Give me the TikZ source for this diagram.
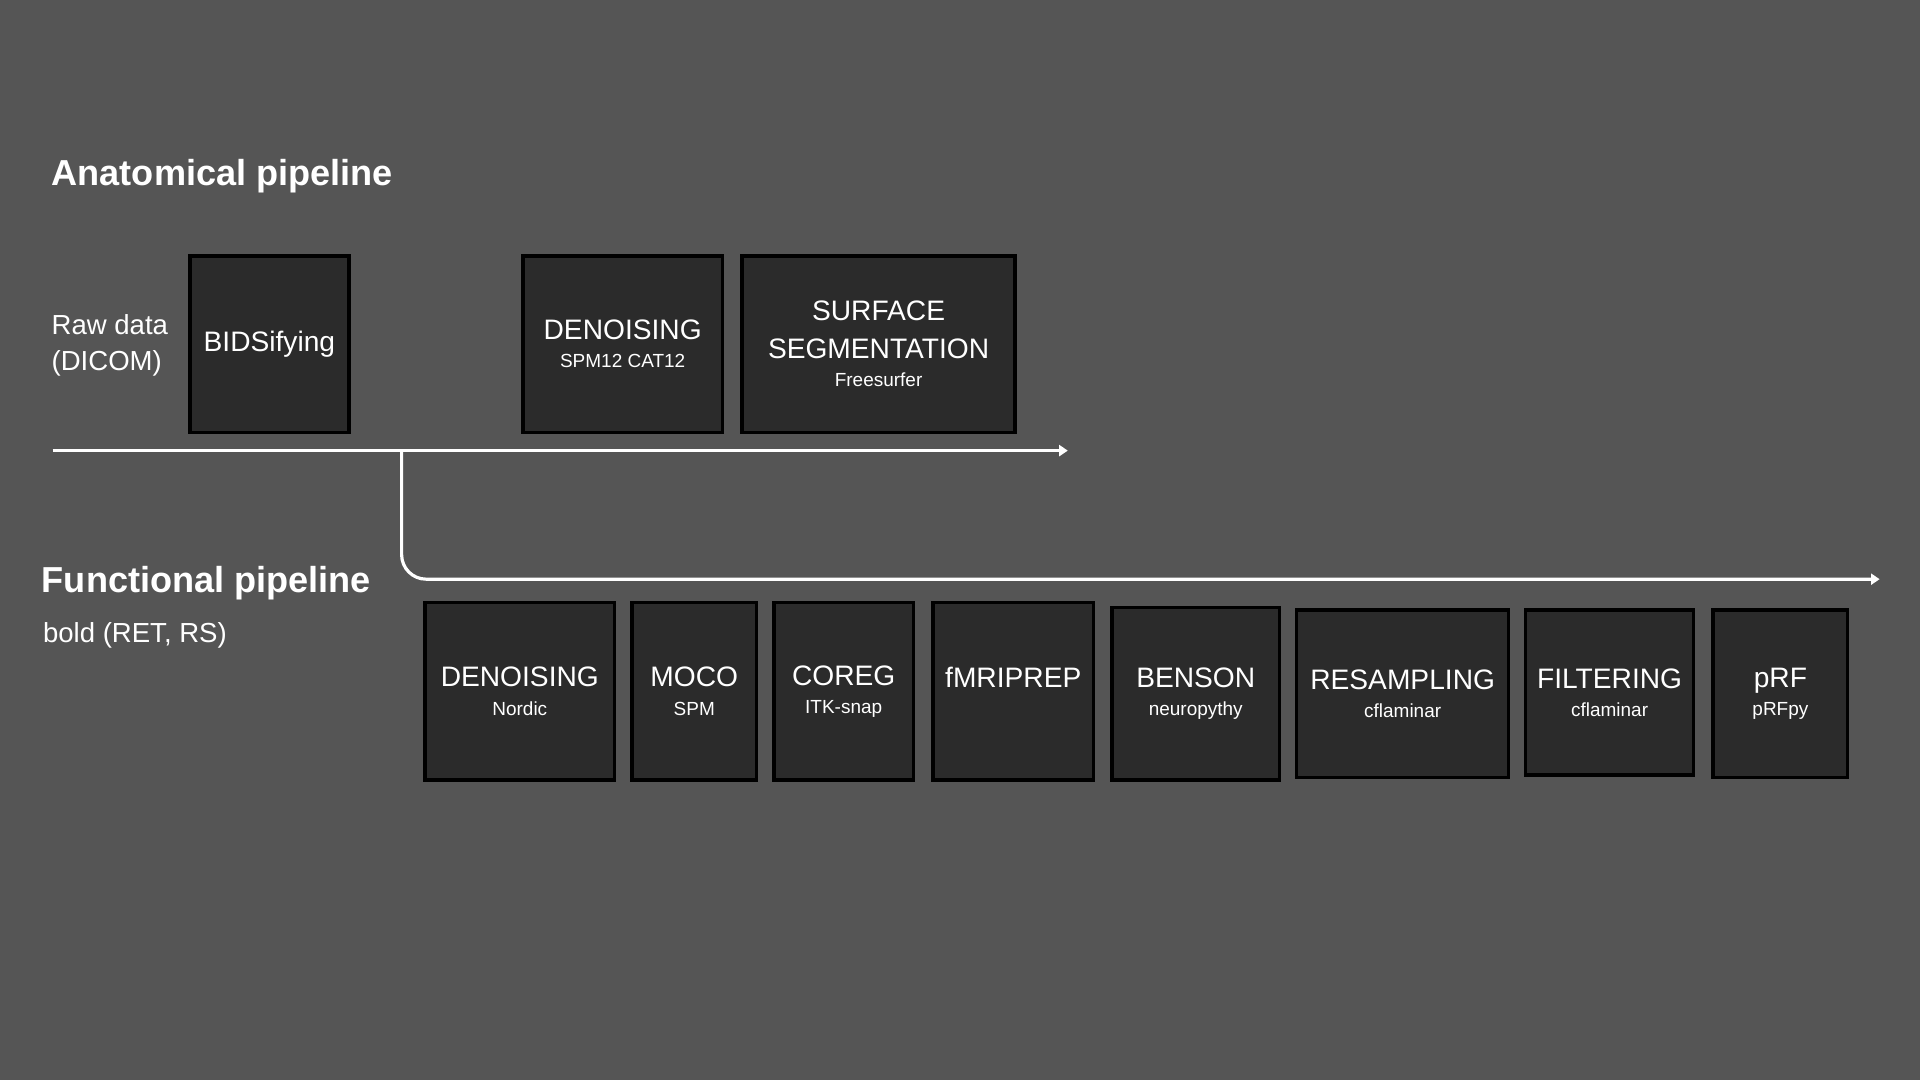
\documentclass[tikz,border=0pt]{standalone}
\usepackage{fontspec}
\setmainfont{Liberation Sans}
\usepackage{tikz}
\usetikzlibrary{arrows, arrows.meta}
\definecolor{bggray}{HTML}{555555}
\definecolor{stagefill}{HTML}{2B2B2B}
\newcommand{\subfont}{\fontsize{15.5}{23}\selectfont}

\begin{document}
\begin{tikzpicture}[x=1pt,y=-1pt]
\tikzset{stage/.style={draw=black, line width=2.8pt, fill=stagefill, text=white, align=center, inner sep=0pt, font=\fontsize{23}{23}\selectfont}}
\tikzset{heading/.style={text=white, anchor=west, inner sep=0pt, font=\fontsize{29.5}{34}\selectfont\bfseries}}
\tikzset{sidetext/.style={text=white, anchor=west, align=left, inner sep=0pt, font=\fontsize{22.5}{30}\selectfont}}
\tikzset{flow/.style={draw=white, line width=2.6pt, -{Triangle[length=7pt,width=9pt]}}}
\fill[bggray] (0,0) rectangle (1568,882);
% anatomical
\node[heading] (anatitle) at (42,144) {Anatomical pipeline};
\node[sidetext] (rawdata) at (42,282) {Raw data\\(DICOM)};
\node[stage, minimum width=130, minimum height=144] (abids) at (220,281) {BIDSifying};
\node[stage, minimum width=163, minimum height=144] (aden) at (508.5,281) {DENOISING\\\subfont SPM12 CAT12};
\node[stage, minimum width=223, minimum height=144] (asurf) at (717.5,281) {SURFACE\\[8pt]SEGMENTATION\\\subfont Freesurfer};
% functional
\node[heading] (funtitle) at (34,476) {Functional pipeline};
\node[sidetext] (boldrun) at (35,519) {bold (RET, RS)};
\node[stage, minimum width=155, minimum height=145] (fden) at (424.5,564.5) {DENOISING\\\subfont Nordic};
\node[stage, minimum width=102, minimum height=145] (fmoco) at (567,564.5) {MOCO\\\subfont SPM};
\node[stage, minimum width=114, minimum height=145] (fcoreg) at (689,564.5) {COREG\\\subfont ITK-snap};
\node[stage, minimum width=131, minimum height=145] (fprep) at (827.5,564.5) {fMRIPREP\\\subfont ~};
\node[stage, minimum width=137, minimum height=141] (fbenson) at (976.5,566.5) {BENSON\\\subfont neuropythy};
\node[stage, minimum width=173, minimum height=137] (fresamp) at (1145.5,566.5) {RESAMPLING\\\subfont cflaminar};
\node[stage, minimum width=137, minimum height=135] (ffilt) at (1314.5,565.5) {FILTERING\\\subfont cflaminar};
\node[stage, minimum width=110, minimum height=137] (fprf) at (1454,566.5) {pRF\\\subfont pRFpy};
% arrows
\coordinate (rawstart) at (43,368);
\coordinate (split) at (328,368);
\coordinate (anaend) at (872,368);
\coordinate (funend) at (1535,473);
\draw[flow] (rawstart) -- (anaend);
\draw[flow, rounded corners=20pt] (split) |- (funend);
\end{tikzpicture}
\end{document}
